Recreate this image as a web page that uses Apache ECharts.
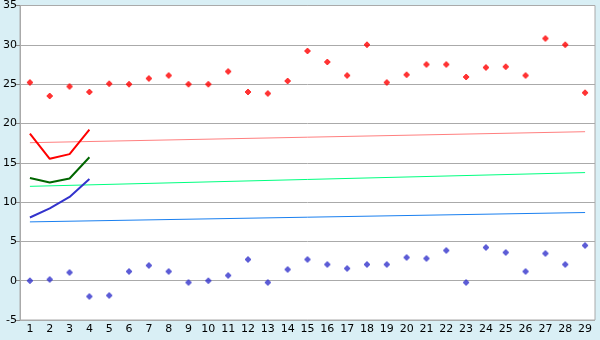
<!DOCTYPE html>
<html>
<head>
<meta charset="utf-8">
<script src="https://cdn.jsdelivr.net/npm/echarts@6/dist/echarts.min.js"></script>
<style>
html,body{margin:0;padding:0;background:#d9eff5;}
#c{width:600px;height:340px;}
</style>
</head>
<body>
<div id="c"></div>
<script>
const categories = ['1','2','3','4','5','6','7','8','9','10','11','12','13','14','15','16','17','18','19','20','21','22','23','24','25','26','27','28','29'];
const redPoints = [25.2,23.5,24.7,24.0,25.05,25.0,25.7,26.1,25.0,25.0,26.6,24.0,23.8,25.4,29.2,27.8,26.1,30.0,25.2,26.2,27.5,27.5,25.9,27.1,27.2,26.1,30.8,30.0,23.9];
const bluePoints = [0.0,0.15,1.05,-2.0,-1.87,1.18,1.94,1.18,-0.22,0.0,0.67,2.7,-0.22,1.43,2.7,2.07,1.56,2.07,2.07,2.96,2.83,3.85,-0.22,4.23,3.59,1.18,3.47,2.07,4.48];
const redLine = [18.7,15.5,16.1,19.2];
const darkGreenLine = [13.07,12.48,13.0,15.7];
const purpleLine = [8.04,9.2,10.65,12.94];
const pinkTrend = [17.55,18.95];
const greenTrend = [12.0,13.75];
const blueTrend = [7.48,8.67];
const yTicks = [-5,0,5,10,15,20,25,30,35];

const marker = 'path://M2,0H4V1H5V2H6V4H5V5H4V6H2V5H1V4H0V2H1V1H2Z';
const first = categories[0], last = categories[categories.length-1];
function trend(arr){ return [[first, arr[0]], [last, arr[1]]]; }

const chart = echarts.init(document.getElementById('c'), null, {renderer:'canvas'});
chart.setOption({
  animation:false,
  backgroundColor:'#d9eff5',
  grid:{left:20,right:5,top:5,bottom:20,show:true,backgroundColor:'#ffffff',borderColor:'#aaaaaa',borderWidth:1},
  xAxis:{
    type:'category', data:categories, boundaryGap:true,
    axisLine:{lineStyle:{color:'#aaaaaa'}},
    axisTick:{alignWithLabel:true,length:4,lineStyle:{color:'#000'}},
    axisLabel:{color:'#000',fontFamily:'DejaVu Sans',fontSize:11,margin:4,interval:0},
    splitLine:{show:false}
  },
  yAxis:{
    type:'value', min:yTicks[0], max:yTicks[yTicks.length-1], interval:5,
    axisLine:{show:true,lineStyle:{color:'#aaaaaa'}},
    axisTick:{show:true,length:4,lineStyle:{color:'#888888'}},
    axisLabel:{color:'#000',fontFamily:'DejaVu Sans',fontSize:11,margin:3},
    splitLine:{lineStyle:{color:'#aaaaaa'}}
  },
  series:[
    {type:'line',data:trend(pinkTrend),symbol:'none',lineStyle:{color:'#ff8080',width:1}},
    {type:'line',data:trend(greenTrend),symbol:'none',lineStyle:{color:'#00ff80',width:1}},
    {type:'line',data:trend(blueTrend),symbol:'none',lineStyle:{color:'#1a80f0',width:1}},
    {type:'line',data:redLine,symbol:'none',lineStyle:{color:'#ff0000',width:2}},
    {type:'line',data:darkGreenLine,symbol:'none',lineStyle:{color:'#006600',width:2}},
    {type:'line',data:purpleLine,symbol:'none',lineStyle:{color:'#3333cc',width:2}},
    {type:'scatter',data:redPoints,symbol:marker,symbolSize:6,itemStyle:{color:'#ff0000'}},
    {type:'scatter',data:bluePoints,symbol:marker,symbolSize:6,itemStyle:{color:'#3333cc'}}
  ]
});
</script>
</body>
</html>
